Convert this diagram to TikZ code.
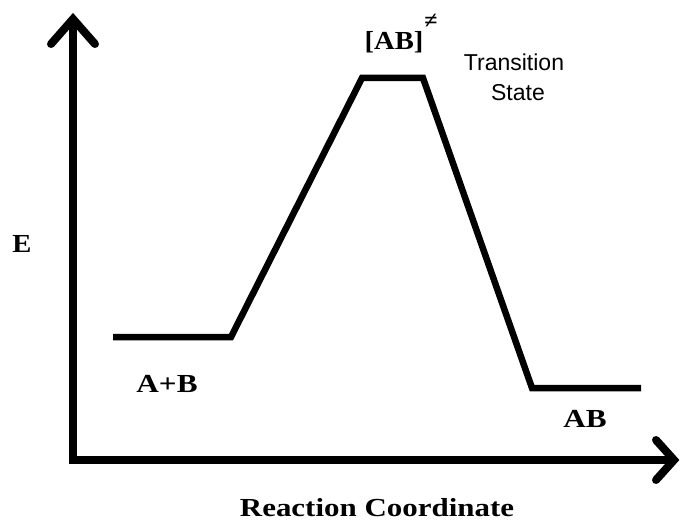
\documentclass[tikz,border=0pt]{standalone}
\usepackage{fontspec}
\setmainfont{Liberation Serif}
\newfontfamily\labelsans{Liberation Sans}
\begin{document}
\begin{tikzpicture}[x=1pt,y=-1pt,
  axisline/.style={line width=8pt,line join=miter,line cap=butt},
  tipline/.style={line width=8pt,line join=miter,line cap=round},
  energyline/.style={line width=6.5pt,line join=miter,line cap=butt},
  boldlabel/.style={inner sep=0pt,anchor=base,font=\fontsize{26}{30}\selectfont\bfseries},
  sanslabel/.style={inner sep=0pt,anchor=base,font=\fontsize{23}{28}\labelsans\selectfont}]
\useasboundingbox (0,0) rectangle (681,524);
% axes
\coordinate (ytip) at (73,19);
\coordinate (origin) at (73,460);
\coordinate (xtip) at (674,460);
\coordinate (ywl) at (51,44);
\coordinate (ywr) at (95,44);
\coordinate (xwu) at (656,440);
\coordinate (xwd) at (656,480);
\draw[axisline] (ytip) -- (origin) -- (xtip);
\draw[tipline] (ywl) -- (ytip) -- (ywr);
\draw[tipline] (xwu) -- (xtip) -- (xwd);
% energy profile
\coordinate (p1) at (113,337);
\coordinate (p2) at (231,337);
\coordinate (p3) at (362,78);
\coordinate (p4) at (423,78);
\coordinate (p5) at (532,388);
\coordinate (p6) at (641,388);
\draw[energyline] (p1) -- (p2) -- (p3) -- (p4) -- (p5) -- (p6);
% labels
\node[boldlabel] (elab) at (22,253) {\scalebox{1.1}[1]{E}};
\node[boldlabel] (ablab1) at (167,392) {\scalebox{1.2}[1]{A+B}};
\node[boldlabel] (ablab2) at (585,427) {\scalebox{1.2}[1]{AB}};
\node[boldlabel] (xlab) at (377,516) {\scalebox{1.19}[1]{Reaction Coordinate}};
\node[boldlabel] (tslab) at (394,50) {\scalebox{1.1}[1]{[AB]}};
\node[inner sep=0pt,font=\fontsize{24}{24}\selectfont\bfseries] (dag) at (431,21) {≠};
\node[sanslabel] (ts1) at (514,71) {Transition};
\node[sanslabel] (ts2) at (518,101) {State};
\end{tikzpicture}
\end{document}
